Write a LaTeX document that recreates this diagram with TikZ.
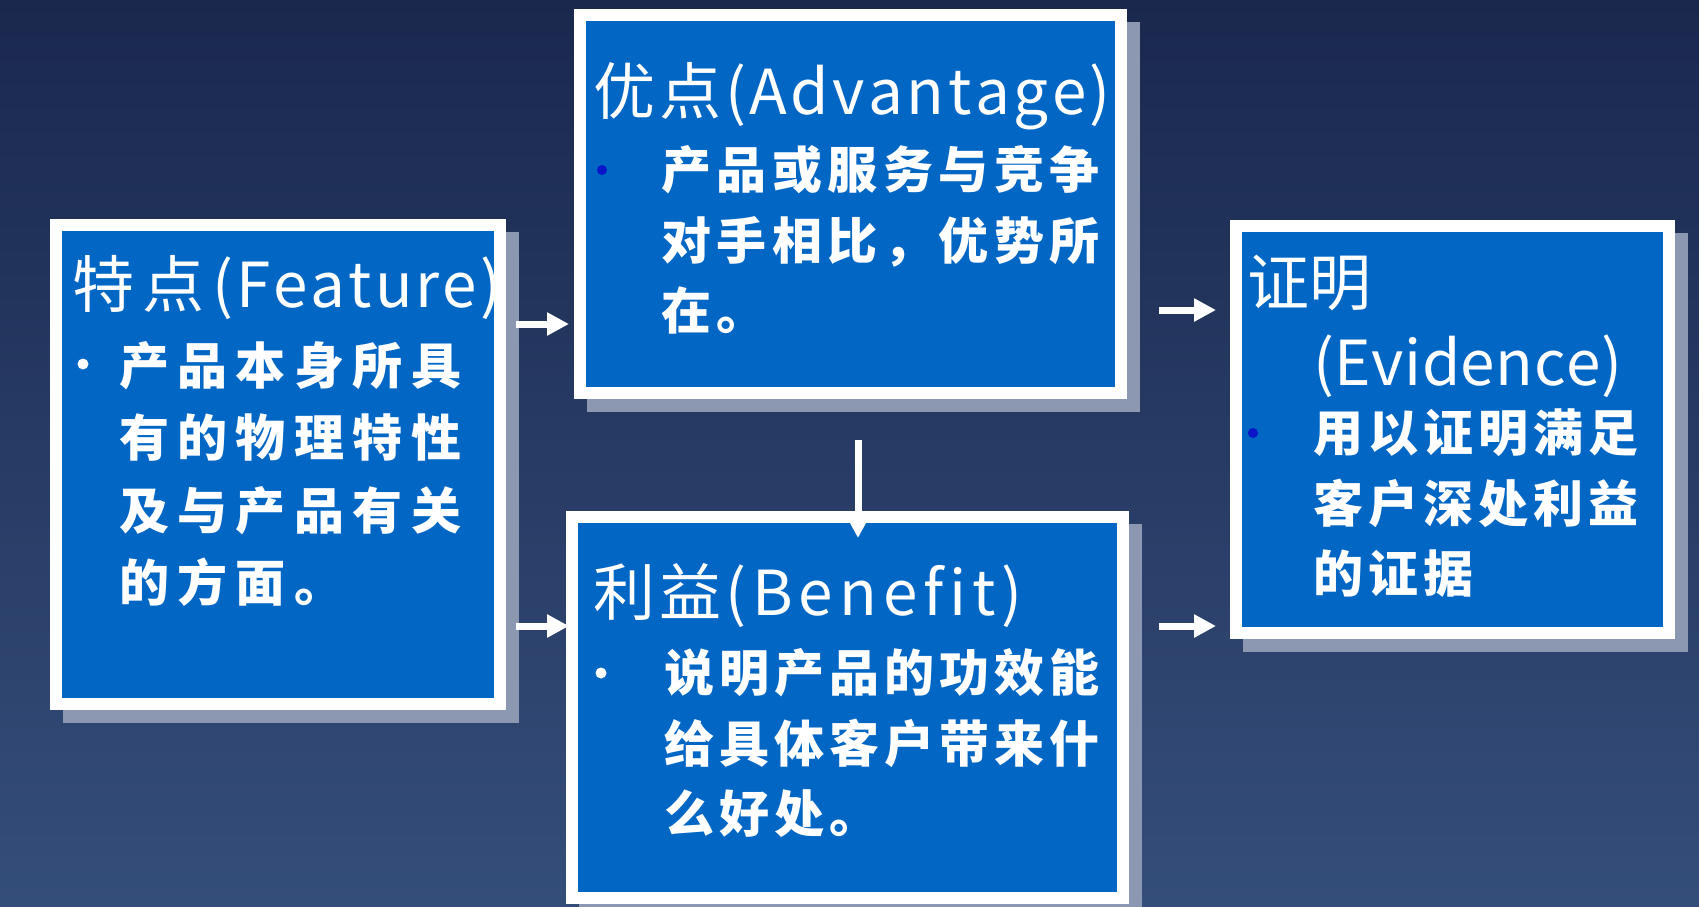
\documentclass[tikz,border=0pt]{standalone}
\usepackage{fontspec}
\newfontfamily\cjk{Noto Sans CJK SC}
\usetikzlibrary{arrows.meta,calc}

\definecolor{bgtop}{RGB}{26,40,78}
\definecolor{bgbot}{RGB}{52,78,122}
\definecolor{boxblue}{RGB}{2,102,196}
\definecolor{shadowgray}{RGB}{140,152,178}
\definecolor{dotblue}{RGB}{10,20,200}

% letter-spaced text: a kern after every character
\makeatletter
\newcommand\tracked[2]{\def\trk@k{#1}\trk@loop#2\relax}
\def\trk@loop#1{\ifx#1\relax\else#1\kern\trk@k\expandafter\trk@loop\fi}
\makeatother

\pgfdeclarelayer{back}
\pgfdeclarelayer{shade}
\pgfsetlayers{back,shade,main}

\tikzset{
  box/.style={draw=white, line width=12pt, fill=boxblue, inner sep=0pt},
  ttl/.style={anchor=base west, inner sep=0pt, text=white,
    font=\cjk\fontsize{62}{62}\selectfont},
  bodyt/.style={anchor=base west, inner sep=0pt, text=white,
    font=\cjk\bfseries\fontsize{50}{50}\selectfont},
  wdot/.style={circle, fill=white, inner sep=0pt, minimum size=11pt},
  bdot/.style={circle, fill=dotblue, inner sep=0pt, minimum size=10pt},
  arr/.style={draw=white, line width=7pt, -{Triangle[length=22pt,width=22pt]}},
}

\begin{document}
\begin{tikzpicture}[x=1pt,y=-1pt]
\begin{pgfonlayer}{back}
  \shade[top color=bgtop, bottom color=bgbot] (0,0) rectangle (1699,906);
\end{pgfonlayer}
\useasboundingbox (0,0) rectangle (1699,906);

% the four boxes
\node[box, minimum width=444pt, minimum height=479pt] (F) at (278,464.5) {};
\node[box, minimum width=541pt, minimum height=378pt] (A) at (850.5,204) {};
\node[box, minimum width=551pt, minimum height=381pt] (B) at (847.5,707.5) {};
\node[box, minimum width=433pt, minimum height=407pt] (E) at (1452.5,429.5) {};

% drop shadows
\begin{pgfonlayer}{shade}
  \foreach \n in {F,A,B,E}
    \fill[shadowgray] ($(\n.north west)+(13,13)$) rectangle ($(\n.south east)+(13,13)$);
\end{pgfonlayer}

% Feature
\node[ttl] (Ft) at (72,307) {\tracked{8pt}{特点}\tracked{3pt}{(Feature)}};
\node[wdot] (Fb) at (83,364) {};
\node[bodyt] (F1) at (119,384) {\tracked{8.4pt}{产品本身所具}};
\node[bodyt] (F2) at (119,456) {\tracked{8.4pt}{有的物理特性}};
\node[bodyt] (F3) at (119,529) {\tracked{8.4pt}{及与产品有关}};
\node[bodyt] (F4) at (119,601) {\tracked{8.4pt}{的方面。}};

% Advantage
\node[ttl] (At) at (593,114) {\tracked{4pt}{优点}\tracked{3.5pt}{(Advantage)}};
\node[bdot] (Ab) at (602,170) {};
\node[bodyt] (A1) at (661,188) {\tracked{5.5pt}{产品或服务与竞争}};
\node[bodyt] (A2) at (661,259) {\tracked{5.5pt}{对手相比，优势所}};
\node[bodyt] (A3) at (661,329) {\tracked{5.5pt}{在。}};

% Benefit
\node[ttl] (Bt) at (593,615) {\tracked{4pt}{利益}\tracked{6pt}{(Benefit)}};
\node[wdot] (Bb) at (601,673) {};
\node[bodyt] (B1) at (664,691) {\tracked{5pt}{说明产品的功效能}};
\node[bodyt] (B2) at (664,762) {\tracked{5pt}{给具体客户带来什}};
\node[bodyt] (B3) at (664,832) {\tracked{5pt}{么好处。}};

% Evidence
\node[ttl] (Et) at (1247,305) {\tracked{0pt}{证明}};
\node[ttl] (Et2) at (1313,385) {\tracked{0.5pt}{(Evidence)}};
\node[bdot] (Eb) at (1253,433) {};
\node[bodyt] (E1) at (1313,451) {\tracked{5pt}{用以证明满足}};
\node[bodyt] (E2) at (1313,522) {\tracked{5pt}{客户深处利益}};
\node[bodyt] (E3) at (1313,592) {\tracked{5pt}{的证据}};

% connectors
\coordinate (yFA) at (0,324);
\coordinate (yAE) at (0,310);
\coordinate (yLow) at (0,626);
\coordinate (xAB) at (858,0);
\draw[arr, shorten <=10pt, shorten >=5pt] (F.east |- yFA) -- (A.west |- yFA);
\draw[arr, shorten <=10pt, shorten >=-3pt] (F.east |- yLow) -- (B.west |- yLow);
\draw[arr, shorten <=32pt, shorten >=14pt] (A.east |- yAE) -- (E.west |- yAE);
\draw[arr, shorten <=30pt, shorten >=14pt] (B.east |- yLow) -- (E.west |- yLow);
\draw[arr, shorten <=41pt, shorten >=-27pt] (A.south -| xAB) -- (B.north -| xAB);
\end{tikzpicture}
\end{document}
